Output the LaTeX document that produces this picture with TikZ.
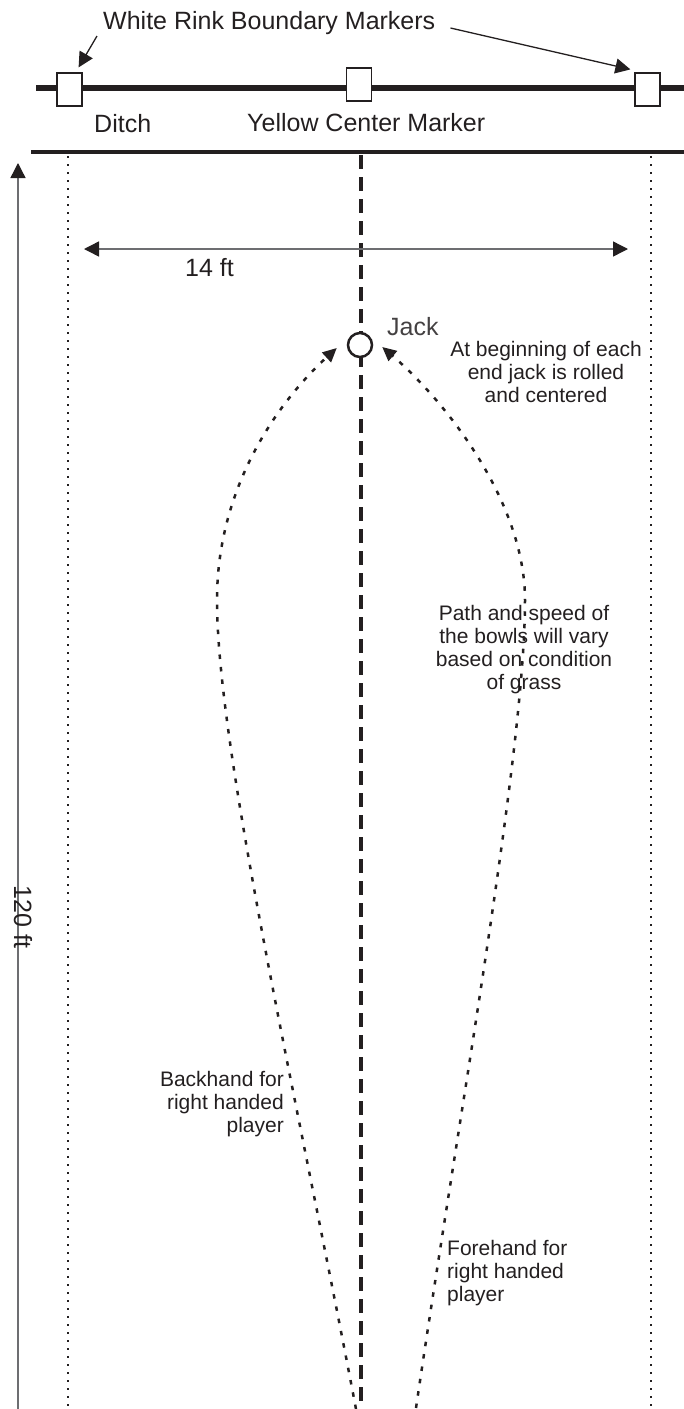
\documentclass[tikz,border=0pt]{standalone}
\usepackage{fontspec}
\setmainfont{Liberation Sans}
\usepackage{xcolor}
\usepackage{tikz}
\usetikzlibrary{positioning,calc,arrows.meta}
\definecolor{ink}{HTML}{231F20}
\definecolor{dimgray}{HTML}{6D6E71}

\begin{document}
\begin{tikzpicture}[x=1pt,y=-1pt,
    marker/.style={draw=ink, fill=white, line width=1.2pt, minimum width=25pt, minimum height=33pt, inner sep=0pt},
    biglabel/.style={font=\fontsize{25}{28}\selectfont, text=ink, inner sep=0pt},
    smalllabel/.style={font=\fontsize{21}{23}\selectfont, text=ink, inner sep=0pt},
    boundary/.style={ink, line width=2pt, dash pattern=on 2pt off 6pt},
    centreline/.style={ink, line width=3.5pt, dash pattern=on 14pt off 8pt},
    bowlpath/.style={ink, line width=2.5pt, dash pattern=on 4.5pt off 8pt, -{Triangle[length=14pt,width=13pt]}},
    dimline/.style={dimgray, line width=1.4pt},
    headtip/.tip={Triangle[length=15pt,width=15pt,color=ink]}]
    \useasboundingbox (0,0) rectangle (684,1409);

    % Ditch and markers
    \draw [ink, line width=6pt] (36,88) -- (684,88);
    \node [marker] (leftmark) at (69.5,89.5) {};
    \node [marker] (centremark) at (359,84.5) {};
    \node [marker] (rightmark) at (647.5,89.5) {};
    \node [biglabel, anchor=base west] (title) at (103,29) {White Rink Boundary Markers};
    \draw [ink, line width=1.3pt, -{headtip}] ([shift={(-6,7)}]title.base west) -- ([shift={(-4,-5)}]leftmark.north east);
    \draw [ink, line width=1.3pt, -{headtip}] ([shift={(15,-1)}]title.base east) -- ([shift={(-4,-3)}]rightmark.north west);
    \node [biglabel, anchor=base west] (ditch) at (94,132) {Ditch};
    \node [biglabel, anchor=base west] (yellow) at (247,131) {Yellow Center Marker};

    % Rink
    \draw [ink, line width=3.5pt] (31,152) -- (684,152);
    \draw [boundary] (68,156) -- (68,1409);
    \draw [boundary] (651,156) -- (651,1409);
    \draw [centreline] (361,155) -- (361,1409);

    % Dimensions
    \coordinate (wl) at (84,249);
    \coordinate (wr) at (628,249);
    \draw [dimline, {headtip}-{headtip}] (wl) -- (wr);
    \node [biglabel, anchor=base west] (width) at (185,276) {14 ft};
    \coordinate (lfoot) at (18,1409);
    \coordinate (ltop) at (18,163);
    \draw [dimline, -{headtip}] (lfoot) -- (ltop);
    \node [biglabel, rotate=-90] (length) at (23,917) {120 ft};

    % Jack
    \node [circle, draw=ink, fill=white, line width=2.5pt, minimum size=24pt, inner sep=0pt] (jack) at (360,345) {};
    \node [biglabel, anchor=base west, text=ink!85] (jacklabel) at (387,335) {Jack};

    % Bowl paths
    \coordinate (bfoot) at (356,1409);
    \coordinate (ffoot) at (416,1408);
    \draw [bowlpath] (bfoot) .. controls (299,1109) and (217,750) .. (217,600)
        .. controls (217,487) and (278,402) .. ([shift={(-10,3)}]jack.west);
    \draw [bowlpath] (ffoot) .. controls (460,1108) and (525,750) .. (525,600)
        .. controls (525,500) and (443,399) .. ([shift={(9,2)}]jack.east);

    % Notes (base = last line)
    \node [smalllabel, align=center, anchor=base] (rolled) at (546,402) {At beginning of each\\end jack is rolled\\and centered};
    \node [smalllabel, align=center, anchor=base] (speed) at (524,689) {Path and speed of\\the bowls will vary\\based on condition\\of grass};
    \node [smalllabel, align=right, anchor=base east] (backhand) at (284,1132) {Backhand for\\right handed\\player};
    \node [smalllabel, align=left, anchor=base west] (forehand) at (447,1301) {Forehand for\\right handed\\player};
\end{tikzpicture}
\end{document}
